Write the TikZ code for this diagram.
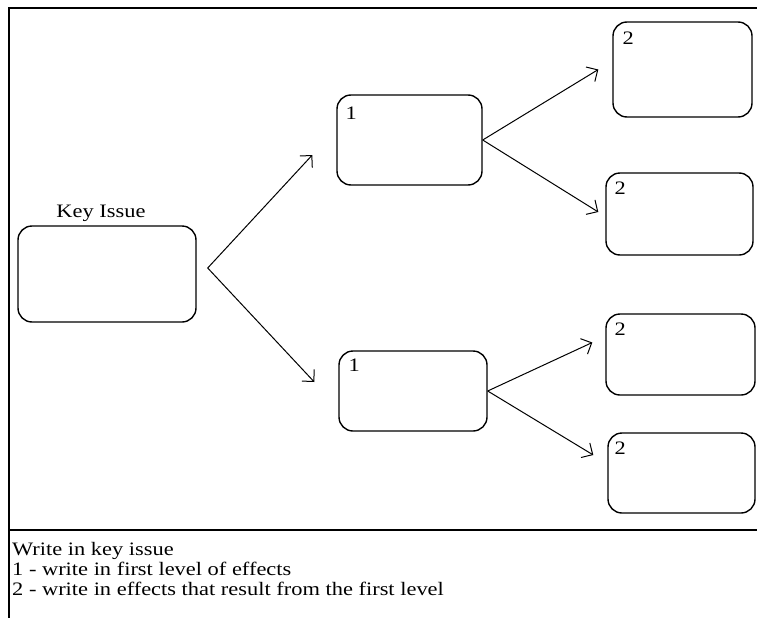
\documentclass[tikz,border=0pt]{standalone}
\usepackage{fontspec}
\setmainfont[FakeStretch=1.18]{Liberation Serif}
\usetikzlibrary{arrows.meta}

\tikzset{
  box/.style={draw, line width=1.4pt, rounded corners=14pt, inner sep=0pt},
  num/.style={anchor=north west, inner sep=0pt, font=\fontsize{19}{19}\selectfont},
  arr/.style={line width=1pt, -{Straight Barb[length=8.5pt, width=17pt, line width=1pt]}},
  frame/.style={line width=1.6pt}
}

\begin{document}
\begin{tikzpicture}[x=1pt, y=-1pt]
		\useasboundingbox (0,0) rectangle (757,618);
		%outer frame
		\draw[frame] (757,8) -- (9,8) -- (9,618);
		\draw[frame] (9,530) -- (757,530);
		
		%key issue
		\node[box, minimum width=178pt, minimum height=96pt] (key) at (107,274) {};
		\node[font=\fontsize{19}{19}\selectfont, inner sep=0pt] (keylbl) at (101,213) {Key Issue};
		
		%first level
		\node[box, minimum width=145pt, minimum height=90pt] (a1) at (409.5,140) {};
		\node[box, minimum width=148pt, minimum height=80pt] (a2) at (413,391) {};
		\node[num] (a1n) at ([shift={(9,12)}]a1.north west) {1};
		\node[num] (a2n) at ([shift={(10,8)}]a2.north west) {1};
		
		%second level
		\node[box, minimum width=139pt, minimum height=95pt] (b1) at (682.5,69.5) {};
		\node[box, minimum width=147pt, minimum height=82pt] (b2) at (679.5,214) {};
		\node[box, minimum width=149pt, minimum height=81pt] (b3) at (680.5,354.5) {};
		\node[box, minimum width=147pt, minimum height=80pt] (b4) at (681.5,473) {};
		\node[num] (b1n) at ([shift={(10,10)}]b1.north west) {2};
		\node[num] (b2n) at ([shift={(9,9)}]b2.north west) {2};
		\node[num] (b3n) at ([shift={(9,9)}]b3.north west) {2};
		\node[num] (b4n) at ([shift={(7,9)}]b4.north west) {2};
		
		%arrows
		\coordinate (fan) at ([shift={(11,-6)}]key.east);
		\draw[arr] (fan) -- ([shift={(-24,15)}]a1.west);
		\draw[arr] (fan) -- ([shift={(-24,-9)}]a2.west);
		\draw[arr] (a1.east) -- ([shift={(-14,0)}]b1.west);
		\draw[arr] (a1.east) -- ([shift={(-7,-2)}]b2.west);
		\draw[arr] (a2.east) -- ([shift={(-13,-12)}]b3.west);
		\draw[arr] (a2.east) -- ([shift={(-14,-18)}]b4.west);
		
		%notes
		\node[anchor=base west, inner sep=0pt, font=\fontsize{19}{19}\selectfont] (n0) at (12,555) {Write in key issue};
		\node[anchor=base west, inner sep=0pt, font=\fontsize{19}{19}\selectfont] (n1) at (12,575) {1 - write in first level of effects};
		\node[anchor=base west, inner sep=0pt, font=\fontsize{19}{19}\selectfont] (n2) at (12,595) {2 - write in effects that result from the first level};
\end{tikzpicture}
\end{document}
